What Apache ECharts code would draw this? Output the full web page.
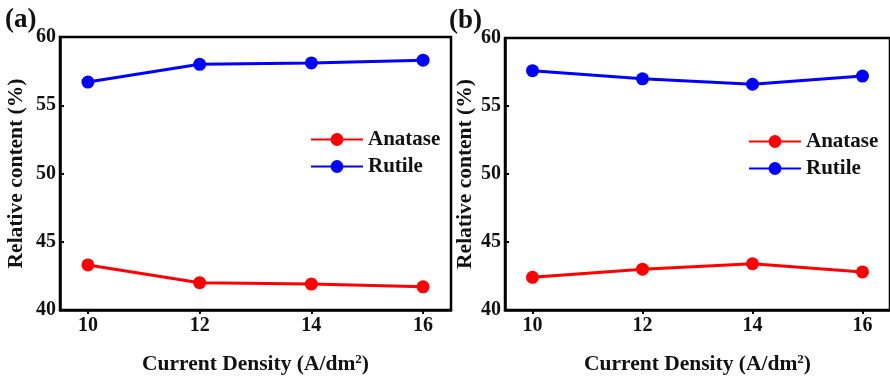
<!DOCTYPE html>
<html><head><meta charset="utf-8">
<script src="https://cdn.jsdelivr.net/npm/echarts@6/dist/echarts.min.js"></script>
<style>html,body{margin:0;padding:0;background:#fff}#c{width:890px;height:380px}</style>
</head><body><div id="c"></div>
<script>
const xValues = [10, 12, 14, 16];
const anataseA = [43.3, 42.0, 41.9, 41.7];
const rutileA = [56.7, 58.0, 58.1, 58.3];
const anataseB = [42.4, 43.0, 43.4, 42.8];
const rutileB = [57.6, 57.0, 56.6, 57.2];
const yTicks = [40, 45, 50, 55, 60];
const panelLabels = ['(a)', '(b)'];
const xTitle = 'Current Density (A/dm{sup|2})';
const yTitle = 'Relative content (%)';

const font = '"Liberation Serif", "Times New Roman", serif';
const pair = (xs, ys) => xs.map((x, i) => [x, ys[i]]);
const labelStyle = {fontFamily: font, fontWeight: 'bold', fontSize: 20, color: '#111'};

function xAxis(gi) {
  return {
    gridIndex: gi, type: 'value', min: 9.5, max: 16.5, interval: 2,
    axisLine: {show: true, lineStyle: {color: '#000', width: 2.5}},
    axisTick: {show: true, inside: false, length: 4, lineStyle: {color: '#000', width: 2}, customValues: xValues},
    axisLabel: Object.assign({margin: 6, customValues: xValues}, labelStyle),
    splitLine: {show: false},
    name: xTitle, nameLocation: 'middle', nameGap: 43,
    nameTextStyle: {fontFamily: font, fontWeight: 'bold', fontSize: 21.5, color: '#111',
      rich: {sup: {fontFamily: font, fontWeight: 'bold', fontSize: 13, color: '#111', verticalAlign: 'top', padding: [0, 0, 9, 0]}}}
  };
}
function yAxis(gi, gap) {
  return {
    gridIndex: gi, type: 'value', min: yTicks[0], max: yTicks[yTicks.length - 1], interval: 5,
    axisLine: {show: true, lineStyle: {color: '#000', width: 2.5}},
    axisTick: {show: true, inside: true, length: 4, lineStyle: {color: '#000', width: 2}},
    axisLabel: Object.assign({margin: 4}, labelStyle),
    splitLine: {show: false},
    name: yTitle, nameLocation: 'middle', nameGap: gap, nameRotate: 90,
    nameTextStyle: {fontFamily: font, fontWeight: 'bold', fontSize: 21.5, color: '#111'}
  };
}
function line(name, color, xi, data) {
  return {
    name, type: 'line', xAxisIndex: xi, yAxisIndex: xi, data,
    symbol: 'circle', symbolSize: 13, color,
    lineStyle: {color, width: 3}, itemStyle: {color}
  };
}
const legendCommon = {
  orient: 'vertical', itemWidth: 52, itemHeight: 16, itemGap: 6,
  itemStyle: {borderWidth: 0},
  textStyle: {fontFamily: font, fontWeight: 'bold', fontSize: 21, color: '#111'},
  data: ['Anatase', 'Rutile'], selectedMode: false
};

const chart = echarts.init(document.getElementById('c'), null, {renderer: 'canvas'});
chart.setOption({
  animation: false,
  backgroundColor: '#fff',
  grid: [
    {left: 60, top: 37, width: 391, height: 274, show: true, borderColor: '#000', borderWidth: 2.5, backgroundColor: 'transparent'},
    {left: 505, top: 38, width: 390, height: 272, show: true, borderColor: '#000', borderWidth: 2.5, backgroundColor: 'transparent'}
  ],
  xAxis: [xAxis(0), xAxis(1)],
  yAxis: [yAxis(0, 33), yAxis(1, 29)],
  legend: [
    Object.assign({left: 305, top: 124}, legendCommon),
    Object.assign({left: 743, top: 126}, legendCommon)
  ],
  series: [
    line('Anatase', '#ff0000', 0, pair(xValues, anataseA)),
    line('Rutile', '#0000ff', 0, pair(xValues, rutileA)),
    line('Anatase', '#ff0000', 1, pair(xValues, anataseB)),
    line('Rutile', '#0000ff', 1, pair(xValues, rutileB))
  ],
  graphic: [
    {type: 'text', left: 5, top: 7, style: {text: panelLabels[0], font: 'bold 27px ' + font, fill: '#111'}},
    {type: 'text', left: 449, top: 8, style: {text: panelLabels[1], font: 'bold 27px ' + font, fill: '#111'}}
  ]
});
</script></body></html>
